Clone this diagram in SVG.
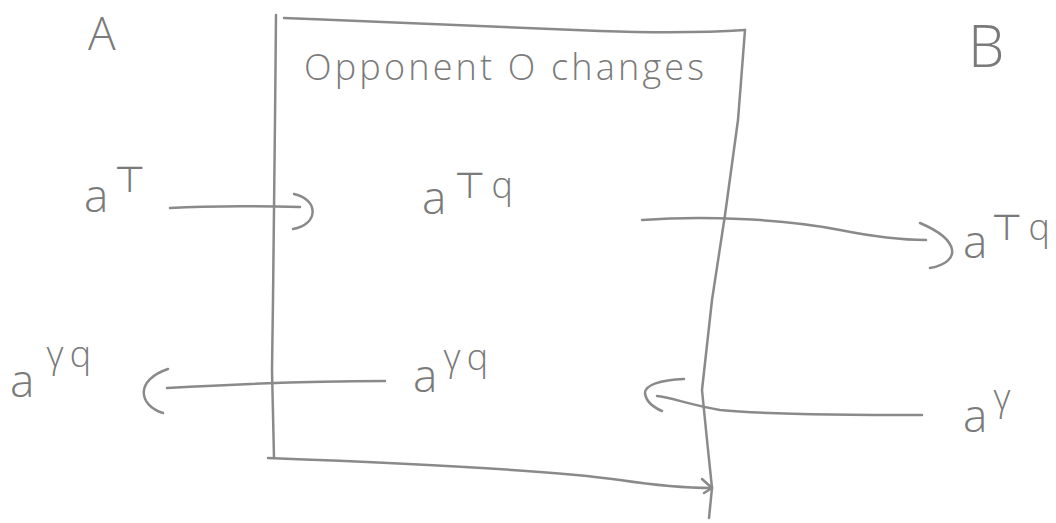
<svg xmlns="http://www.w3.org/2000/svg" width="1056" height="523" viewBox="0 0 1056 523">
<style>
.s{fill:none;stroke:#8a8a8a;stroke-width:2.5;stroke-linecap:round;stroke-linejoin:round}
.t{fill:#7a7a7a;font-family:"Open Sans","Liberation Sans",sans-serif;font-weight:300}
.big{font-size:46px}
.sup{font-size:36px;letter-spacing:6px}
</style>
<rect width="1056" height="523" fill="#fff"/>
<g id="A"><text class="t" x="88" y="50" font-size="46">A</text></g>
<g id="B"><text class="t" x="968" y="67" font-size="58">B</text></g>
<g id="box">
<path class="s" d="M284 18 C400 22 520 28 600 31 C660 33 700 33 745 30"/>
<path class="s" d="M276 15 L275 120 L273 300 L272 370 L274 458"/>
<path class="s" d="M745 30 L738 120 L725 215 L712 300 L702 390 L707 440 L712 488 L709 518"/>
<path class="s" d="M268 458 C400 463 550 470 620 480 C660 486 690 488 712 488"/>
<path class="s" d="M702 479 L712 488 L704 493"/>
<text class="t" x="304" y="80" font-size="36" textLength="400" lengthAdjust="spacing">Opponent O changes</text>
</g>
<g id="labels">
<text class="t" x="84" y="212"><tspan class="big">a</tspan><tspan class="sup" dx="6" dy="-20">⊤</tspan></text>
<text class="t" x="422" y="214"><tspan class="big">a</tspan><tspan class="sup" dx="8" dy="-16">⊤q</tspan></text>
<text class="t" x="963" y="258"><tspan class="big">a</tspan><tspan class="sup" dx="4" dy="-18">⊤q</tspan></text>
<text class="t" x="10" y="397"><tspan class="big">a</tspan><tspan class="sup" dx="12" dy="-30">γq</tspan></text>
<text class="t" x="413" y="392"><tspan class="big">a</tspan><tspan class="sup" dx="6" dy="-22">γq</tspan></text>
<text class="t" x="963" y="432"><tspan class="big">a</tspan><tspan class="sup" dx="6" dy="-22">γ</tspan></text>
</g>
<g id="connectors">
<path class="s" d="M170 208 C220 205 260 206 300 207"/>
<path class="s" d="M294 194 C320 200 318 225 293 229"/>
<path class="s" d="M642 220 C700 216 780 218 840 230 C880 238 910 240 926 240"/>
<path class="s" d="M920 223 C960 240 962 262 930 268"/>
<path class="s" d="M385 381 C300 381 220 385 167 388"/>
<path class="s" d="M168 369 C135 380 138 405 163 413"/>
<path class="s" d="M922 415 C850 415 760 414 720 410 C690 405 670 397 657 396"/>
<path class="s" d="M684 379 C660 380 645 385 645 393 C646 402 655 408 662 411"/>
</g>
</svg>
